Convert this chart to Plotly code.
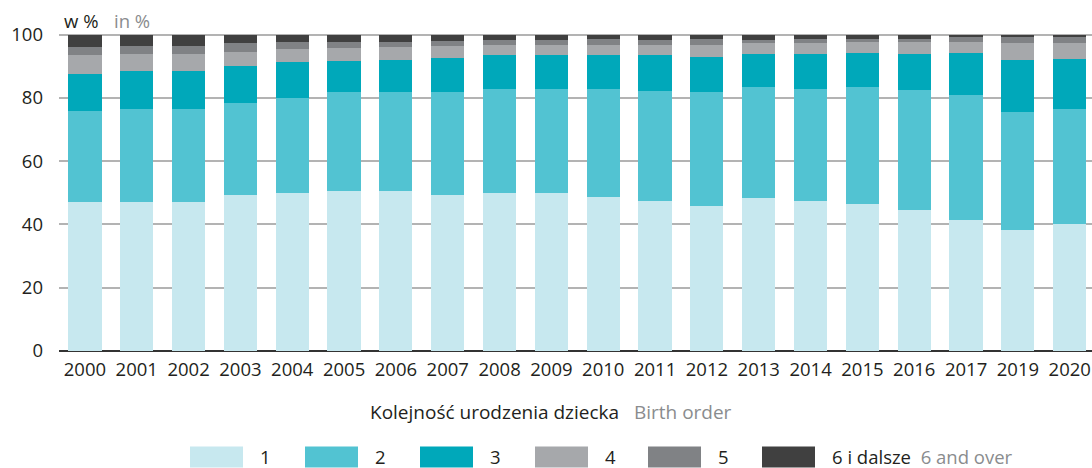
import plotly.graph_objects as go

years = ["2000", "2001", "2002", "2003", "2004", "2005", "2006", "2007", "2008", "2009",
         "2010", "2011", "2012", "2013", "2014", "2015", "2016", "2017", "2019", "2020"]

order1 = [47.2, 47.2, 47.2, 49.4, 49.8, 50.5, 50.7, 49.4, 50.0, 49.8,
          48.8, 47.5, 45.9, 48.2, 47.5, 46.6, 44.7, 41.3, 38.4, 40.0]
order2 = [28.5, 29.4, 29.4, 29.1, 30.3, 31.2, 31.3, 32.6, 32.9, 33.1,
          34.1, 34.8, 36.1, 35.1, 35.4, 36.7, 37.9, 39.7, 37.0, 36.6]
order3 = [12.0, 12.0, 12.0, 11.7, 11.1, 10.1, 10.1, 10.7, 10.5, 10.8,
          10.5, 11.4, 11.0, 10.7, 11.1, 11.0, 11.4, 13.3, 16.7, 15.8]
order4 = [6.0, 5.4, 5.4, 4.4, 4.1, 4.1, 4.1, 3.8, 3.4, 3.1,
          3.4, 3.1, 3.8, 3.2, 3.2, 3.2, 3.5, 3.5, 5.1, 4.8]
order5 = [2.5, 2.5, 2.5, 2.6, 2.2, 1.9, 1.6, 1.6, 1.6, 1.6,
          1.9, 1.6, 1.9, 1.2, 1.5, 1.2, 1.2, 1.3, 1.9, 1.9]
order6 = [3.8, 3.5, 3.5, 2.8, 2.5, 2.2, 2.2, 1.9, 1.6, 1.6,
          1.3, 1.6, 1.3, 1.6, 1.3, 1.3, 1.3, 0.9, 0.9, 0.9]

series_names = ["1", "2", "3", "4", "5", "6 i dalsze"]
series_values = [order1, order2, order3, order4, order5, order6]
colors = ["#c7e8ef", "#52c3d2", "#00a8ba", "#a6a8ab", "#808285", "#404040"]

W, H = 1092, 468
ML, MR, MT, MB = 59, 0, 33.4, 116.5
PW = W - ML - MR
PH = H - MT - MB
FONT = "Open Sans"
FS = 18.5
DARK = "#231f20"
GRAYTXT = "#8a8c8e"


def px(x):
    return (x - ML) / PW


def py(y):
    return (H - MB - y) / PH


def gray(t):
    return "<span style='color:" + GRAYTXT + "'>" + t + "</span>"


fig = go.Figure()
for name, vals, col in zip(series_names, series_values, colors):
    fig.add_trace(go.Bar(x=years, y=vals, name=name, marker=dict(color=col, line=dict(width=0))))

fig.update_layout(
    width=W, height=H,
    barmode="stack", bargap=0.36,
    showlegend=False,
    plot_bgcolor="white", paper_bgcolor="white",
    margin=dict(l=ML, r=MR, t=MT, b=MB, pad=0),
    font=dict(family=FONT, size=FS, color=DARK),
    xaxis=dict(type="category", range=[-0.5, 19.43], showgrid=False, showline=False,
               zeroline=False, ticks="", tickfont=dict(size=FS, color=DARK), ticklabelstandoff=5),
    yaxis=dict(range=[0, 100.5], tickvals=[0, 20, 40, 60, 80, 100], showgrid=True,
               gridcolor="#b3b3b3", gridwidth=1.6, zeroline=True, zerolinecolor="#333333",
               zerolinewidth=1.6, showline=False, ticks="", tickfont=dict(size=FS, color=DARK),
               ticklabelstandoff=15),
)

# axis unit labels
fig.add_annotation(x=px(62), y=py(21), xref="paper", yref="paper", xanchor="left", yanchor="middle",
                   text="w %", showarrow=False, font=dict(size=FS, color=DARK))
fig.add_annotation(x=px(112), y=py(21), xref="paper", yref="paper", xanchor="left", yanchor="middle",
                   text="in %", showarrow=False, font=dict(size=FS, color=GRAYTXT))

# legend title
fig.add_annotation(x=px(551), y=py(413), xref="paper", yref="paper", xanchor="center", yanchor="middle",
                   text="Kolejność urodzenia dziecka&nbsp;&nbsp;&nbsp;" + gray("Birth order"),
                   showarrow=False, font=dict(size=19, color=DARK))

# custom legend
box_left = [190, 305, 420, 535, 648, 762]
for i, (name, col) in enumerate(zip(series_names, colors)):
    x0 = box_left[i]
    fig.add_shape(type="rect", xref="paper", yref="paper", x0=px(x0), x1=px(x0 + 53),
                  y0=py(468), y1=py(447), fillcolor=col, line=dict(width=0), layer="above")
    label = name if name != "6 i dalsze" else "6 i dalsze&nbsp;&nbsp;" + gray("6 and over")
    fig.add_annotation(x=px(x0 + 68), y=py(457), xref="paper", yref="paper", xanchor="left",
                       yanchor="middle", text=label, showarrow=False, font=dict(size=FS, color=DARK))

fig.write_html("out.html", config={"displayModeBar": False},
               post_script="document.body.style.margin='0';document.body.style.padding='0';")
